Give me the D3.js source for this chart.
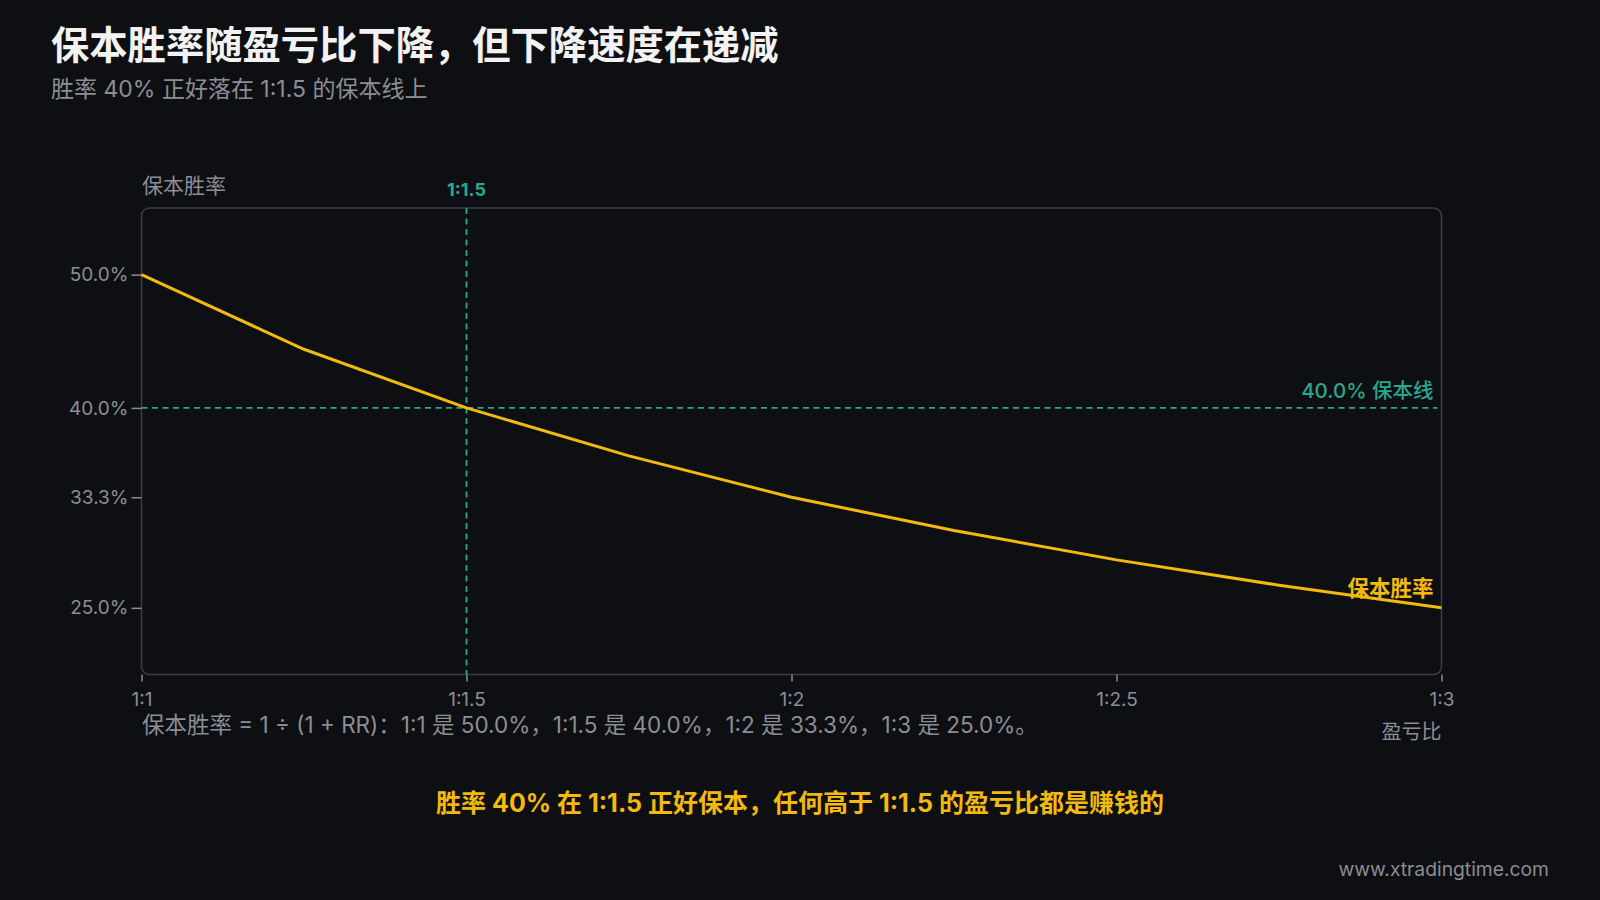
<!DOCTYPE html>
<html><head><meta charset="utf-8">
<script src="https://cdn.jsdelivr.net/npm/d3@7"></script>
<style>
html,body{margin:0;padding:0;background:#0e0f13;}
svg{display:block;}
text{font-family:Inter,"Noto Sans CJK SC","Noto Sans",sans-serif;}
</style></head>
<body>
<svg id="c" width="1600" height="900"></svg>
<script>
const rrValues = [1, 1.25, 1.5, 1.75, 2, 2.25, 2.5, 2.75, 3];
const breakevenRates = [50.0, 44.4, 40.0, 36.4, 33.3, 30.8, 28.6, 26.7, 25.0];
const xTickValues = [1, 1.5, 2, 2.5, 3];
const xTickLabels = ["1:1", "1:1.5", "1:2", "1:2.5", "1:3"];
const yTickValues = [50.0, 40.0, 33.3, 25.0];
const yTickLabels = ["50.0%", "40.0%", "33.3%", "25.0%"];
const markRR = 1.5, markRate = 40.0;

const FONT = 'Inter,"Noto Sans CJK SC",sans-serif';
const svg = d3.select("#c");
const W = 1600, H = 900;
svg.append("rect").attr("width", W).attr("height", H).attr("fill", "#0e0f13");

const L = 141.5, R = 1441.5, T = 208, B = 674.5;
const x = d3.scaleLinear().domain([1, 3]).range([L, R]);
const y = d3.scaleLinear().domain([20, 55]).range([B, T]);

const yellow = "#f2b90f", teal = "#2ba78f", grey = "#8b8e95", frame = "#3b3e45";

// title
svg.append("text").attr("x", 51).attr("y", 59).attr("fill", "#f2f2f2")
  .attr("font-size", 38.3).attr("font-weight", 700).text("保本胜率随盈亏比下降，但下降速度在递减");
svg.append("text").attr("x", 51).attr("y", 97).attr("fill", grey)
  .attr("font-size", 23).text("胜率 40% 正好落在 1:1.5 的保本线上");

// frame
svg.append("rect").attr("x", L).attr("y", T).attr("width", R - L).attr("height", B - T)
  .attr("rx", 8).attr("fill", "none").attr("stroke", frame).attr("stroke-width", 1.5);

// y axis
const yAxis = d3.axisLeft(y).tickValues(yTickValues).tickFormat((d, i) => yTickLabels[i])
  .tickSize(10).tickPadding(3);
const gy = svg.append("g").attr("transform", `translate(${L},0)`).call(yAxis);
gy.select(".domain").remove();
gy.selectAll(".tick line").attr("stroke", grey).attr("stroke-width", 1.5);
gy.selectAll(".tick text").attr("fill", grey).attr("font-size", 19).attr("font-family", FONT);

// x axis
const xAxis = d3.axisBottom(x).tickValues(xTickValues).tickFormat((d, i) => xTickLabels[i])
  .tickSize(7).tickPadding(11);
const gx = svg.append("g").attr("transform", `translate(0,${B})`).call(xAxis);
gx.select(".domain").remove();
gx.selectAll(".tick line").attr("stroke", grey).attr("stroke-width", 1.5);
gx.selectAll(".tick text").attr("fill", grey).attr("font-size", 19).attr("font-family", FONT);

// axis titles
svg.append("text").attr("x", 142).attr("y", 193).attr("fill", grey).attr("font-size", 21).text("保本胜率");
svg.append("text").attr("x", R).attr("y", 739).attr("text-anchor", "end").attr("fill", grey)
  .attr("font-size", 20).text("盈亏比");

// reference lines
svg.append("line").attr("x1", x(markRR)).attr("x2", x(markRR)).attr("y1", T).attr("y2", B)
  .attr("stroke", teal).attr("stroke-width", 1.8).attr("stroke-dasharray", "6,4.5");
svg.append("line").attr("x1", L).attr("x2", R - 4).attr("y1", y(markRate)).attr("y2", y(markRate))
  .attr("stroke", teal).attr("stroke-width", 1.8).attr("stroke-dasharray", "6,4.5");
svg.append("text").attr("x", x(markRR)).attr("y", 196).attr("text-anchor", "middle")
  .attr("fill", teal).attr("font-size", 18).attr("font-weight", 700).text("1:1.5");
svg.append("text").attr("x", R - 8).attr("y", y(markRate) - 10).attr("text-anchor", "end")
  .attr("fill", teal).attr("font-size", 20.5).attr("font-weight", 500).text("40.0% 保本线");

// line
const line = d3.line().x((d, i) => x(rrValues[i])).y(d => y(d));
svg.append("path").datum(breakevenRates).attr("d", line).attr("fill", "none")
  .attr("stroke", yellow).attr("stroke-width", 3).attr("stroke-linejoin", "round");
svg.append("text").attr("x", R - 8).attr("y", 596).attr("text-anchor", "end")
  .attr("fill", yellow).attr("font-size", 21.5).attr("font-weight", 700).text("保本胜率");

// footnote
svg.append("text").attr("x", 142).attr("y", 733).attr("fill", grey).attr("font-size", 22.5)
  .text("保本胜率 = 1 ÷ (1 + RR)：1:1 是 50.0%，1:1.5 是 40.0%，1:2 是 33.3%，1:3 是 25.0%。");

// conclusion
svg.append("text").attr("x", 800).attr("y", 812).attr("text-anchor", "middle").attr("fill", yellow)
  .attr("font-size", 25).attr("font-weight", 700)
  .text("胜率 40% 在 1:1.5 正好保本，任何高于 1:1.5 的盈亏比都是赚钱的");

// watermark
svg.append("text").attr("x", 1549).attr("y", 876).attr("text-anchor", "end").attr("fill", "#8a8c92")
  .attr("font-size", 19.3).text("www.xtradingtime.com");
</script>
</body></html>
